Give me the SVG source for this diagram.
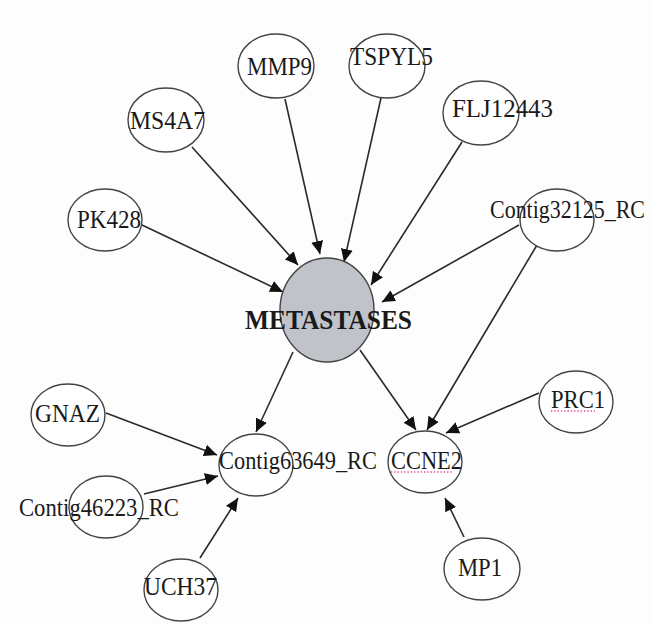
<svg xmlns="http://www.w3.org/2000/svg" width="654" height="625" viewBox="0 0 654 625">
<style>
.n{fill:#ffffff;stroke:#444;stroke-width:1.4}
.c{fill:#c0c3c9;stroke:#444;stroke-width:1.4}
.t{font-family:"Liberation Serif","Times New Roman",serif;font-size:26px;fill:#1a1a1a}
.tb{font-family:"Liberation Serif","Times New Roman",serif;font-size:28px;font-weight:bold;fill:#1a1a1a}
.e{stroke:#2a2a2a;stroke-width:1.6;fill:none;marker-end:url(#ah)}
.u{stroke:#e0409a;stroke-width:1.4;stroke-dasharray:1.3 2}
</style>
<defs>
<marker id="ah" markerUnits="userSpaceOnUse" markerWidth="14" markerHeight="12" refX="13" refY="6" orient="auto">
<path d="M0,0 L13,6 L0,12 z" fill="#111"/>
</marker>
</defs>
<rect width="654" height="625" fill="#fdfdfd"/>
<g id="connectors">
<line class="e" x1="142" y1="225" x2="283" y2="292"/>
<line class="e" x1="192" y1="147" x2="298" y2="265"/>
<line class="e" x1="285" y1="99" x2="320" y2="254"/>
<line class="e" x1="381" y1="98" x2="344" y2="262"/>
<line class="e" x1="462" y1="142" x2="371" y2="285"/>
<line class="e" x1="519" y1="225" x2="382" y2="302"/>
<line class="e" x1="537" y1="245" x2="427" y2="430"/>
<line class="e" x1="293" y1="352" x2="256" y2="432"/>
<line class="e" x1="360" y1="350" x2="416" y2="430"/>
<line class="e" x1="539" y1="393" x2="446" y2="433"/>
<line class="e" x1="106" y1="413" x2="217" y2="455"/>
<line class="e" x1="144" y1="494" x2="218" y2="476"/>
<line class="e" x1="200" y1="558" x2="238" y2="498"/>
<line class="e" x1="464" y1="537" x2="445" y2="498"/>
</g>
<g id="METASTASES">
<ellipse class="c" cx="327" cy="310" rx="47" ry="52"/>
<text class="tb" x="245" y="329" textLength="167" lengthAdjust="spacingAndGlyphs">METASTASES</text>
</g>
<g id="MMP9">
<ellipse class="n" cx="276" cy="66" rx="38" ry="32"/>
<text class="t" x="247" y="75" textLength="65" lengthAdjust="spacingAndGlyphs">MMP9</text>
</g>
<g id="TSPYL5">
<ellipse class="n" cx="387" cy="66" rx="38" ry="32"/>
<text class="t" x="350" y="65" textLength="83" lengthAdjust="spacingAndGlyphs">TSPYL5</text>
</g>
<g id="FLJ12443">
<ellipse class="n" cx="481" cy="113" rx="38" ry="32"/>
<text class="t" x="452" y="117" textLength="101" lengthAdjust="spacingAndGlyphs">FLJ12443</text>
</g>
<g id="MS4A7">
<ellipse class="n" cx="166" cy="120" rx="38" ry="32"/>
<text class="t" x="130" y="129" textLength="75" lengthAdjust="spacingAndGlyphs">MS4A7</text>
</g>
<g id="PK428">
<ellipse class="n" cx="105" cy="220" rx="37" ry="31"/>
<text class="t" x="77" y="228" textLength="64" lengthAdjust="spacingAndGlyphs">PK428</text>
</g>
<g id="Contig32125_RC">
<ellipse class="n" cx="557" cy="220" rx="37" ry="31"/>
<text class="t" x="490" y="218" textLength="155" lengthAdjust="spacingAndGlyphs">Contig32125_RC</text>
</g>
<g id="GNAZ">
<ellipse class="n" cx="68" cy="415" rx="37" ry="31"/>
<text class="t" x="35" y="422" textLength="65" lengthAdjust="spacingAndGlyphs">GNAZ</text>
</g>
<g id="Contig63649_RC">
<ellipse class="n" cx="256" cy="465" rx="37" ry="31"/>
<text class="t" x="219" y="469" textLength="158" lengthAdjust="spacingAndGlyphs">Contig63649_RC</text>
</g>
<g id="CCNE2">
<ellipse class="n" cx="425" cy="462" rx="37" ry="31"/>
<text class="t" x="391" y="469" textLength="71" lengthAdjust="spacingAndGlyphs">CCNE2</text>
<line class="u" x1="391" y1="472" x2="452" y2="472"/>
</g>
<g id="PRC1">
<ellipse class="n" cx="576" cy="402" rx="37" ry="31"/>
<text class="t" x="551" y="408" textLength="54" lengthAdjust="spacingAndGlyphs">PRC1</text>
<line class="u" x1="551" y1="411" x2="595" y2="411"/>
</g>
<g id="Contig46223_RC">
<ellipse class="n" cx="106" cy="507" rx="37" ry="31"/>
<text class="t" x="19" y="516" textLength="160" lengthAdjust="spacingAndGlyphs">Contig46223_RC</text>
</g>
<g id="UCH37">
<ellipse class="n" cx="181" cy="590" rx="37" ry="31"/>
<text class="t" x="144" y="595" textLength="73" lengthAdjust="spacingAndGlyphs">UCH37</text>
</g>
<g id="MP1">
<ellipse class="n" cx="482" cy="569" rx="38" ry="31"/>
<text class="t" x="458" y="576" textLength="44" lengthAdjust="spacingAndGlyphs">MP1</text>
</g>
</svg>
